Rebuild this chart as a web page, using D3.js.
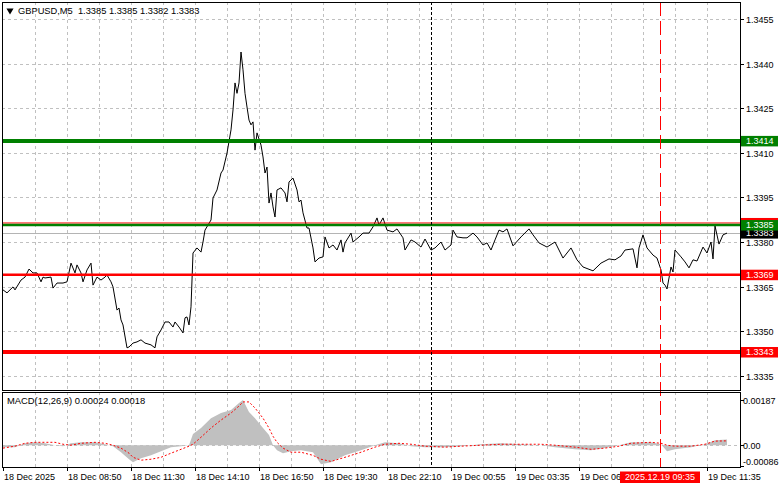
<!DOCTYPE html>
<html><head><meta charset="utf-8">
<script src="https://cdn.jsdelivr.net/npm/d3@7"></script>
<style>
html,body{margin:0;padding:0;background:#fff;}
svg{display:block;font-family:"Liberation Sans",Arial,sans-serif;font-size:9px;}
</style></head><body>
<svg id="chart" width="781" height="489"></svg>
<script>
// ---------------- DATA ----------------
const titleText = "GBPUSD,M5  1.3385 1.3385 1.3382 1.3383";
const macdTitle = "MACD(12,26,9) 0.00024 0.00018";

// bar index (5-minute bars from 18 Dec 2025 06:10) and close price
const priceBars = [
  0,2,5,6,9,11,13,15,17,19,
  20,21,24,25,27,30,32,34,36,37,
  39,40,42,44,45,47,49,51,52,54,
  55,57,58,59,60,62,63,65,67,69,
  71,74,76,77,79,81,83,85,86,88,
  90,91,92,93,94,95,97,99,100,101,
  104,105,107,109,110,112,114,115,116,117,
  118,119,120,121,122,123,124,125,126,127,
  129,130,131,132,133,134,135,136,137,139,
  141,142,143,145,147,148,149,150,152,153,
  155,156,158,160,161,163,165,167,169,170,
  171,174,175,178,180,183,185,187,188,190,
  192,195,197,200,201,204,206,209,211,214,
  216,219,221,224,225,227,230,232,235,237,
  240,242,244,246,248,250,252,255,259,263,
  265,268,272,276,280,284,287,290,295,299,
  303,306,309,311,315,317,318,320,322,325,
  327,329,330,331,332,334,335,336,339,341,
  343,345,347,350,352,354,355,356,358,360,
  362
];
const priceClose = [
  1.33639,1.33629,1.33649,1.33639,1.33672,1.33682,1.33709,1.33696,1.33696,1.33666,
  1.33682,1.33679,1.33682,1.33645,1.33662,1.33662,1.33666,1.33729,1.33696,1.33723,
  1.33696,1.33666,1.33706,1.33729,1.33655,1.33682,1.33672,1.33682,1.33689,1.33666,
  1.33649,1.33571,1.33578,1.33538,1.33521,1.33444,1.33447,1.33460,1.33464,1.33471,
  1.33460,1.33454,1.33444,1.33481,1.33504,1.33531,1.33531,1.33514,1.33531,1.33514,
  1.33494,1.33545,1.33548,1.33521,1.33582,1.33763,1.33780,1.33766,1.33800,1.33840,
  1.33874,1.33948,1.33975,1.34032,1.34042,1.34099,1.34177,1.34244,1.34335,1.34300,
  1.34335,1.34439,1.34379,1.34300,1.34254,1.34210,1.34194,1.34204,1.34109,1.34167,
  1.34126,1.34086,1.34032,1.34052,1.33931,1.33965,1.33918,1.33884,1.33975,1.33982,
  1.33965,1.33935,1.34002,1.34015,1.33975,1.33935,1.33941,1.33898,1.33847,1.33847,
  1.33780,1.33733,1.33746,1.33750,1.33817,1.33780,1.33790,1.33773,1.33807,1.33766,
  1.33797,1.33830,1.33800,1.33817,1.33830,1.33830,1.33851,1.33881,1.33857,1.33881,
  1.33840,1.33834,1.33844,1.33814,1.33773,1.33807,1.33800,1.33783,1.33810,1.33773,
  1.33780,1.33800,1.33773,1.33790,1.33840,1.33817,1.33814,1.33814,1.33830,1.33817,
  1.33790,1.33797,1.33773,1.33807,1.33840,1.33834,1.33844,1.33787,1.33817,1.33844,
  1.33824,1.33797,1.33783,1.33800,1.33746,1.33780,1.33740,1.33716,1.33703,1.33729,
  1.33743,1.33740,1.33753,1.33773,1.33777,1.33713,1.33780,1.33824,1.33780,1.33756,
  1.33746,1.33706,1.33662,1.33655,1.33642,1.33716,1.33699,1.33773,1.33750,1.33733,
  1.33713,1.33740,1.33736,1.33783,1.33763,1.33800,1.33743,1.33854,1.33793,1.33824,
  1.33830
];

const priceTicks = [1.3455,1.3440,1.3425,1.3410,1.3395,1.3380,1.3365,1.3350,1.3335];
const priceDomain = [1.3335, 1.3455];

// horizontal levels
const greenLevels = [1.3414, 1.33857];
const greenLabels = ["1.3414", "1.3385"];
const redLevels = [1.3369, 1.3343];
const redLabels = ["1.3369", "1.3343"];
const redThinLevel = 1.33864;
const bidPrice = 1.3383;
const bidLabel = "1.3383";

// time axis
const timeLabelBars = [0,32,64,96,128,160,192,224,256,288,352];
const timeLabels = ["18 Dec 2025","18 Dec 08:50","18 Dec 11:30","18 Dec 14:10","18 Dec 16:50",
  "18 Dec 19:30","18 Dec 22:10","19 Dec 00:55","19 Dec 03:35","19 Dec 06:15","19 Dec 11:35"];
const gridStepBars = 16;
const daySeparatorBar = 214;
const cursorBar = 328.5;
const cursorLabel = "2025.12.19 09:35";

// MACD
const macdBars = [0,6,11,16,21,26,30,34,39,46,51,55,59,63,65,69,74,79,84,89,93,95,99,104,109,114,118,120,123,126,130,133,135,137,140,144,149,155,159,164,171,179,186,191,198,204,211,221,229,239,249,259,269,276,286,294,301,308,314,324,329,332,336,344,351,356,362];
const macdHist = [-0.00008,-0.00008,0.00008,0.00012,0.00008,0,-0.00004,0.00008,0.00012,0.00012,
  0.00004,-0.00004,-0.00029,-0.00058,-0.00071,-0.00054,-0.00042,-0.00025,-0.00008,-0.00004,
  0,0.00046,0.00071,0.00112,0.00133,0.00146,0.00175,0.00187,0.00137,0.00112,
  0.00071,0.00042,0,-0.00021,-0.00033,-0.00025,-0.00021,-0.00029,-0.00079,-0.00071,
  -0.00042,-0.00021,0,0.00012,0.00008,-0.00004,-0.00008,-0.00008,-0.00004,0.00004,
  0.00008,0.00004,0,-0.00008,-0.00017,-0.00021,-0.00012,0,0.00012,0.00012,
  0.00004,-0.00025,-0.00017,-0.00008,0.00004,0.00021,0.00024];
const macdSignal = [-0.00012,-0.00004,0.00008,0.00012,0.00012,0.00012,0.00004,0,0.00008,0.00012,
  0.00008,0,-0.00012,-0.00033,-0.00050,-0.00062,-0.00058,-0.00050,-0.00033,-0.00017,
  -0.00004,0.00004,0.00033,0.00071,0.00104,0.00133,0.00162,0.00179,0.00179,0.00154,
  0.00112,0.00071,0.00037,0.00012,-0.00012,-0.00029,-0.00029,-0.00042,-0.00058,-0.00067,
  -0.00050,-0.00029,-0.00008,0.00004,0.00008,0.00004,-0.00004,-0.00008,-0.00004,0,
  0.00004,0.00004,0.00004,0,-0.00008,-0.00017,-0.00012,-0.00004,0.00008,0.00012,
  0.00008,0,-0.00004,-0.00004,0.00004,0.00017,0.00018];
const macdTicks = [0.00187, 0.00, -0.00086];
const macdTickLabels = ["0.00187","0.00","-0.00086"];

// ---------------- LAYOUT ----------------
const svg = d3.select("#chart");
const L = 2, R = 740;
const mainTop = 2, mainBottom = 390;
const macdTop = 392, macdBottom = 467;
const GRID = "#c0c0c0";

const x = d3.scaleLinear().domain([0, 368.5]).range([3, 740]);
const y = d3.scaleLinear().domain(priceDomain).range([375.8, 19]);
const ym = d3.scaleLinear().domain([-0.00086, 0.00187]).range([466, 400]);

// grid: vertical
const gridBars = d3.range(gridStepBars, 368, gridStepBars);
[[mainTop, mainBottom], [macdTop, macdBottom]].forEach(([t, b]) => {
  svg.append("g").selectAll("line").data(gridBars).join("line")
    .attr("x1", d => Math.round(x(d)) + 0.5).attr("x2", d => Math.round(x(d)) + 0.5)
    .attr("y1", t).attr("y2", b)
    .attr("stroke", GRID).attr("stroke-dasharray", "3,3");
});
// grid: horizontal
svg.append("g").selectAll("line").data(priceTicks).join("line")
  .attr("x1", L).attr("x2", R)
  .attr("y1", d => Math.round(y(d)) + 0.5).attr("y2", d => Math.round(y(d)) + 0.5)
  .attr("stroke", GRID).attr("stroke-dasharray", "3,3");
svg.append("line").attr("x1", L).attr("x2", R)
  .attr("y1", Math.round(ym(0)) + 0.5).attr("y2", Math.round(ym(0)) + 0.5)
  .attr("stroke", GRID).attr("stroke-dasharray", "3,3");

// bid line (gray)
svg.append("line").attr("x1", L).attr("x2", R)
  .attr("y1", Math.round(y(bidPrice)) + 0.5).attr("y2", Math.round(y(bidPrice)) + 0.5)
  .attr("stroke", "#b4b4b4").attr("stroke-width", 1);

// price line
const pts = priceBars.map((b, i) => [b, priceClose[i]]);
svg.append("path").datum(pts)
  .attr("d", d3.line().x(d => x(d[0])).y(d => y(d[1])))
  .attr("fill", "none").attr("stroke", "#000").attr("stroke-width", 1);

// levels
svg.append("line").attr("x1", L).attr("x2", R)
  .attr("y1", y(redThinLevel)).attr("y2", y(redThinLevel))
  .attr("stroke", "#ff0000").attr("stroke-width", 1);
const greenW = [4, 2.5], redW = [2.5, 4];
greenLevels.forEach((p, i) => {
  svg.append("line").attr("x1", L).attr("x2", R).attr("y1", y(p)).attr("y2", y(p))
    .attr("stroke", "#008000").attr("stroke-width", greenW[i]);
});
redLevels.forEach((p, i) => {
  svg.append("line").attr("x1", L).attr("x2", R).attr("y1", y(p)).attr("y2", y(p))
    .attr("stroke", "#ff0000").attr("stroke-width", redW[i]);
});

// MACD histogram
const mp = macdBars.map((b, i) => [b, macdHist[i], macdSignal[i]]);
svg.append("path").datum(mp)
  .attr("d", d3.area().x(d => x(d[0])).y0(ym(0)).y1(d => ym(d[1])))
  .attr("fill", "#c0c0c0");
svg.append("path").datum(mp)
  .attr("d", d3.line().x(d => x(d[0])).y(d => ym(d[2])))
  .attr("fill", "none").attr("stroke", "#ff0000").attr("stroke-width", 1)
  .attr("stroke-dasharray", "2,2");

// vertical separators
const dx = Math.round(x(daySeparatorBar)) + 0.5;
svg.append("line").attr("x1", dx).attr("x2", dx).attr("y1", mainTop).attr("y2", macdBottom)
  .attr("stroke", "#000").attr("stroke-dasharray", "3,2");
const cx = Math.round(x(cursorBar)) + 0.5;
svg.append("line").attr("x1", cx).attr("x2", cx).attr("y1", mainTop).attr("y2", macdBottom)
  .attr("stroke", "#ff0000").attr("stroke-dasharray", "14,5");

// borders
svg.append("rect").attr("x", L + 0.5).attr("y", mainTop + 0.5)
  .attr("width", R - L).attr("height", mainBottom - mainTop)
  .attr("fill", "none").attr("stroke", "#000");
svg.append("rect").attr("x", L + 0.5).attr("y", macdTop + 0.5)
  .attr("width", R - L).attr("height", macdBottom - macdTop)
  .attr("fill", "none").attr("stroke", "#000");

// right price axis
const ax = svg.append("g");
priceTicks.forEach(p => {
  const yy = Math.round(y(p)) + 0.5;
  ax.append("line").attr("x1", R).attr("x2", R + 4).attr("y1", yy).attr("y2", yy).attr("stroke", "#000");
  ax.append("text").attr("x", 746).attr("y", yy).attr("dy", "0.35em").attr("fill", "#000")
    .text(p.toFixed(4));
});
macdTicks.forEach((v, i) => {
  let yy = Math.round(ym(v)) + 0.5;
  ax.append("line").attr("x1", R).attr("x2", R + 4).attr("y1", yy).attr("y2", yy).attr("stroke", "#000");
  const ty = i === macdTicks.length - 1 ? Math.min(yy, macdBottom - 5) : yy;
  ax.append("text").attr("x", 743).attr("y", ty).attr("dy", "0.35em").attr("fill", "#000")
    .text(macdTickLabels[i]);
});

// price boxes
function priceBox(p, fill, label, withText) {
  const yy = y(p);
  svg.append("rect").attr("x", 741).attr("y", yy - 5).attr("width", 37).attr("height", 10.5).attr("fill", fill);
  if (withText !== false)
    svg.append("text").attr("x", 746).attr("y", yy).attr("dy", "0.35em").attr("fill", "#fff").text(label);
}
priceBox(greenLevels[0], "#008000", greenLabels[0]);
priceBox(redLevels[0], "#ff0000", redLabels[0]);
priceBox(redLevels[1], "#ff0000", redLabels[1]);
priceBox(redThinLevel, "#ff0000", "", false);
priceBox(bidPrice, "#000", bidLabel);
priceBox(greenLevels[1], "#008000", greenLabels[1]);

// time axis
const tg = svg.append("g");
timeLabelBars.forEach((b, i) => {
  const xx = Math.round(x(b)) + 0.5;
  tg.append("line").attr("x1", xx).attr("x2", xx).attr("y1", macdBottom).attr("y2", macdBottom + 4).attr("stroke", "#000");
  tg.append("text").attr("x", xx + 0.5).attr("y", 477).attr("dy", "0.35em").attr("fill", "#000").text(timeLabels[i]);
});
// cursor time label
const cw = 80;
svg.append("rect").attr("x", x(cursorBar) - cw / 2).attr("y", 471.5).attr("width", cw).attr("height", 11.5).attr("fill", "#ff0000");
svg.append("text").attr("x", x(cursorBar)).attr("y", 477.3).attr("dy", "0.35em").attr("text-anchor", "middle")
  .attr("fill", "#fff").text(cursorLabel);

// titles
svg.append("path").attr("d", d3.symbol(d3.symbolTriangle, 22)()).attr("transform", "translate(10,10.5) rotate(180)").attr("fill", "#000");
svg.append("text").attr("x", 18).attr("y", 11).attr("dy", "0.35em").attr("fill", "#000")
  .style("white-space", "pre").style("font-size", "9.3px").text(titleText);
svg.append("text").attr("x", 7).attr("y", 401).attr("dy", "0.35em").attr("fill", "#000")
  .style("font-size", "9.4px").text(macdTitle);
</script>
</body></html>
